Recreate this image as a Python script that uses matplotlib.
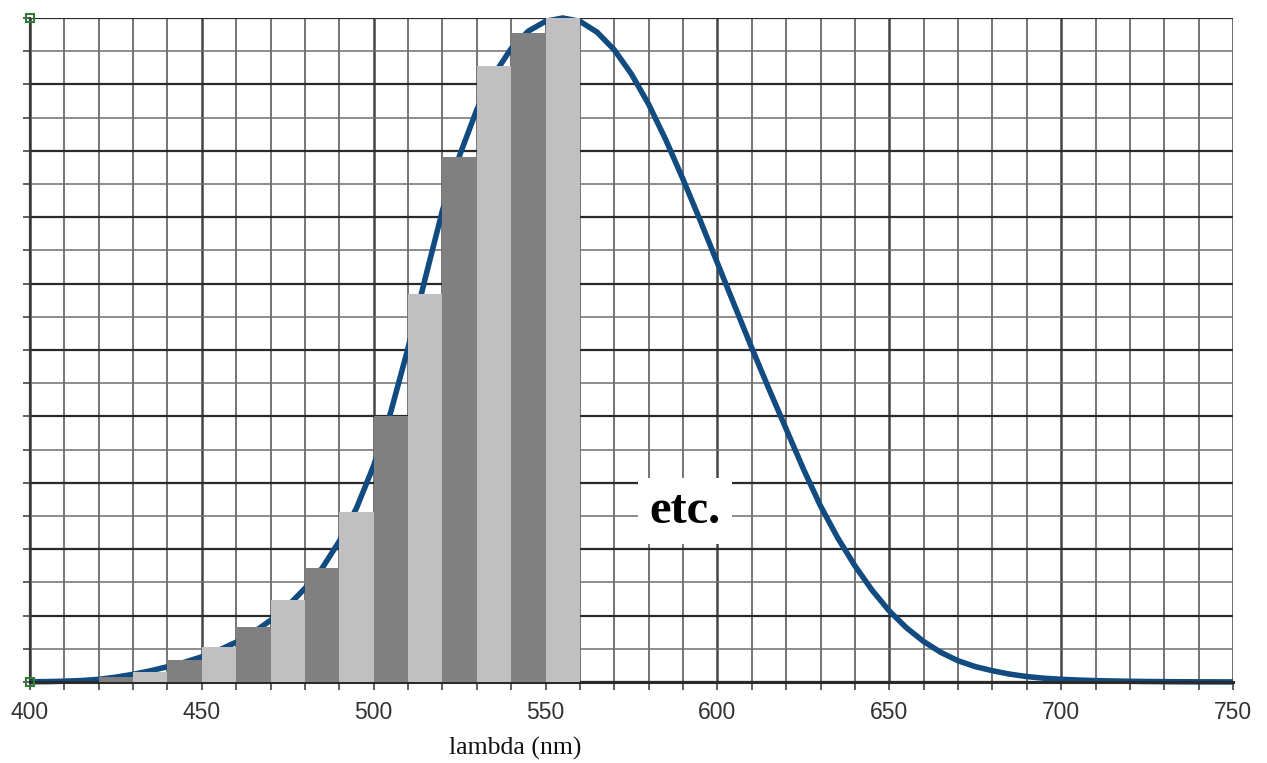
import numpy as np
import matplotlib.pyplot as plt
from matplotlib.ticker import MultipleLocator

# photopic luminosity curve, read every 5 nm
wl = [400, 405, 410, 415, 420, 425, 430, 435, 440, 445, 450, 455, 460, 465, 470,
      475, 480, 485, 490, 495, 500, 505, 510, 515, 520, 525, 530, 535, 540, 545,
      550, 555, 560, 565, 570, 575, 580, 585, 590, 595, 600, 605, 610, 615, 620,
      625, 630, 635, 640, 645, 650, 655, 660, 665, 670, 675, 680, 685, 690, 695,
      700, 705, 710, 715, 720, 725, 730, 735, 740, 745, 750]
lum = [0.0004, 0.0006, 0.0012, 0.0022, 0.0040, 0.0073, 0.0116, 0.0168, 0.023, 0.0298,
       0.038, 0.048, 0.060, 0.0745, 0.093, 0.1145, 0.141, 0.1715, 0.212, 0.2620,
       0.326, 0.4073, 0.503, 0.6082, 0.710, 0.7932, 0.862, 0.9149, 0.954, 0.9803,
       0.995, 1.0, 0.995, 0.9786, 0.952, 0.9154, 0.870, 0.8163, 0.757, 0.6949,
       0.631, 0.5668, 0.503, 0.4412, 0.381, 0.321, 0.265, 0.217, 0.175, 0.1382,
       0.107, 0.0816, 0.061, 0.0446, 0.032, 0.0232, 0.017, 0.0119, 0.0082, 0.0057,
       0.0041, 0.0029, 0.0021, 0.0015, 0.00105, 0.00074, 0.00052, 0.00036, 0.00025,
       0.00017, 0.00012]

# 10 nm slices (left edges) and their heights
bin_left = [420, 430, 440, 450, 460, 470, 480, 490, 500, 510, 520, 530, 540, 550]
bin_h = [0.0075, 0.0155, 0.033, 0.053, 0.083, 0.1235, 0.171, 0.2555, 0.400, 0.585,
         0.791, 0.927, 0.977, 1.0]

W, H = 1267, 763
fig = plt.figure(figsize=(W / 100, H / 100), dpi=100)
ax = fig.add_axes([30 / W, 1 - 682 / H, (1233 - 30) / W, (682 - 18) / H])

ax.set_xlim(400, 750)
ax.set_ylim(0, 1)
ax.xaxis.set_major_locator(MultipleLocator(50))
ax.xaxis.set_minor_locator(MultipleLocator(10))
ax.yaxis.set_major_locator(MultipleLocator(0.1))
ax.yaxis.set_minor_locator(MultipleLocator(0.05))

ax.set_axisbelow(True)
ax.grid(which='major', axis='x', color='#444444', lw=1.8, zorder=0)
ax.grid(which='minor', axis='x', color='#6a6a6a', lw=1.3, zorder=0)
ax.grid(which='major', axis='y', color='#2a2a2a', lw=1.6, zorder=0)
ax.grid(which='minor', axis='y', color='#6e6e6e', lw=1.1, zorder=0)

ax.plot(wl, lum, color='#124b80', lw=4.0, solid_joinstyle='round',
        solid_capstyle='butt', zorder=2, clip_on=False)

colors = ['#808080' if i % 2 == 0 else '#c0c0c0' for i in range(len(bin_left))]
ax.bar(bin_left, bin_h, width=10, align='edge', color=colors, lw=0, zorder=3)

ax.text(590.5, 0.258, 'etc.', ha='center', va='center', fontsize=35,
        fontweight='bold', family='Liberation Serif', zorder=5,
        bbox=dict(facecolor='white', edgecolor='none', pad=8))

for s in ['top', 'right']:
    ax.spines[s].set_visible(False)
ax.spines['bottom'].set_color('#2a2a2a')
ax.spines['bottom'].set_linewidth(2.2)
ax.spines['left'].set_color('#3a3a3a')
ax.spines['left'].set_linewidth(1.6)

ax.tick_params(axis='x', which='both', direction='out', length=6, width=1.2,
               color='#444444', labelsize=16.5, labelcolor='#333333', pad=8)
ax.tick_params(axis='y', which='both', direction='out', length=5, width=1.2,
               color='#444444', labelleft=False)
for lbl in ax.get_xticklabels():
    lbl.set_family('Liberation Sans')

# small handles on the axis ends
ax.plot([400, 400], [0, 1], ls='none', marker='s', ms=6, mfc='none',
        mec='#2e7d32', mew=1.5, clip_on=False, zorder=6)

fig.text(515 / W, 1 - 748 / H, 'lambda (nm)', ha='center', va='center',
         fontsize=18.5, family='Liberation Serif', color='#111111')

fig.savefig('out.png', dpi=100)
